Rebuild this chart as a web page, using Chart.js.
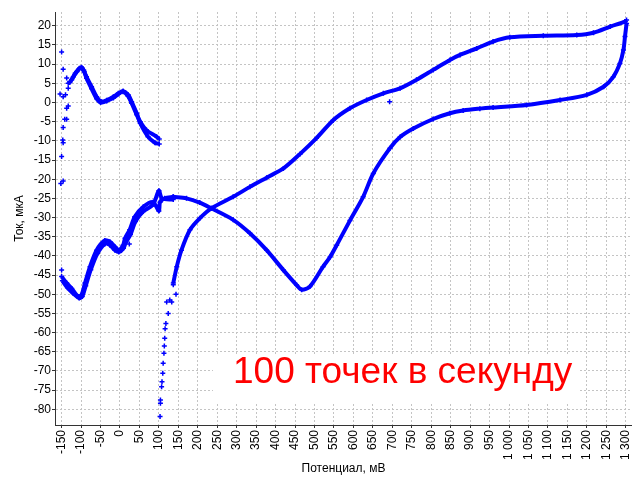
<!DOCTYPE html>
<html>
<head>
<meta charset="utf-8">
<script src="https://cdn.jsdelivr.net/npm/chart.js@4"></script>
<style>
  body { margin: 0; background: #fff; }
  #wrap { width: 632px; height: 478px; }
</style>
</head>
<body>
<div id="wrap"><canvas id="chart"></canvas></div>
<script>
// tick values
const xTicks = [-150,-100,-50,0,50,100,150,200,250,300,350,400,450,500,550,600,650,700,750,800,850,900,950,1000,1050,1100,1150,1200,1250,1300];
const yTicks = [-80,-75,-70,-65,-60,-55,-50,-45,-40,-35,-30,-25,-20,-15,-10,-5,0,5,10,15,20];

// scattered points at the start of the scan
const noiseX = [-150,-146,-137,-133,-129,-133,-154,-146,-140,-133,-137,-137,-142,-146,-147,-146,-150,-152,-146,-150];
const noiseY = [13.2,8.7,6.4,5.0,5.4,3.7,2.2,1.5,2.0,-0.9,-1.5,-4.4,-4.4,-6.5,-9.8,-10.5,-14.1,-21.1,-20.5,-43.7];

// upper-left loop, two passes
const topAX = [-129,-120,-111,-104,-98,-92,-86,-73,-60,-47,-34,-17,-4,8,21,30,43,52,72,90,101];
const topAY = [5.2,6.7,8.0,8.9,9.0,8.0,6.7,4.1,1.5,0.2,0.6,1.5,2.4,3.0,2.0,0.2,-2.8,-5.4,-8.9,-10.5,-10.8];
const topBX = [-124,-115,-106,-99,-93,-86,-73,-60,-50,-34,-17,-4,8,21,30,43,52,68,94,101];
const topBY = [5.9,7.6,8.7,9.2,8.4,6.3,3.6,1.0,0.0,0.4,1.2,2.2,2.8,1.6,-0.2,-3.2,-5.0,-7.2,-8.9,-9.5];

// lower-left part, two passes
const lowAX = [-150,-137,-124,-107,-99,-90,-77,-60,-39,-26,-13,-4,8,13,25,38,60,85,100,103,115,137];
const lowAY = [-45.4,-47.1,-48.5,-50.6,-50.2,-47.1,-42.8,-38.5,-36.0,-36.3,-37.6,-38.5,-37.2,-35.4,-33.2,-29.8,-27.2,-26.0,-28.3,-26.0,-25.0,-24.6];
const lowBX = [-148,-135,-120,-105,-97,-88,-75,-58,-39,-26,-13,-3,9,15,27,40,60,85,100,108,137];
const lowBY = [-46.5,-48.3,-49.8,-51.0,-50.6,-47.8,-43.6,-39.4,-36.9,-37.2,-38.5,-39.0,-38.0,-36.5,-34.4,-31.0,-28.4,-26.6,-23.0,-25.0,-25.3];

// main loop: forward branch (through the minimum) and reverse branch (top)
const fwdX = [137,171,205,235,291,334,377,420,454,467,488,522,540,557,591,625,651,694,720,754,805,848,882,925,959,1045,1131,1200,1243,1268,1285,1294,1298,1302];
const fwdY = [-24.6,-25.0,-26.1,-27.6,-30.6,-34.1,-38.5,-43.7,-47.6,-48.8,-48.0,-42.8,-40.3,-37.2,-30.8,-24.6,-18.5,-11.9,-9.0,-6.8,-4.3,-2.8,-2.1,-1.6,-1.3,-0.65,0.65,2.0,4.1,6.7,10.2,13.7,17.2,20.6];
const revX = [1302,1298,1260,1217,1174,1088,1002,959,917,874,848,805,762,720,677,634,591,548,505,463,420,377,334,291,235,205,180,158,146,137];
const revY = [21.5,21.1,19.8,18.2,17.6,17.4,17.0,15.9,14.1,12.4,11.1,8.5,5.9,3.7,2.4,0.65,-1.5,-4.6,-9.3,-13.4,-17.2,-19.6,-22.0,-24.6,-27.6,-30.2,-33.2,-38.5,-42.8,-47.1];

// sparse tail at the end of the reverse scan
const tailX = [137,144,133,128,124,120,118,116,115,114,113,111,110,108,107,104,104,103];
const tailY = [-47.5,-50.0,-52.0,-51.5,-55.0,-52.0,-57.6,-59.0,-61.5,-63.5,-65.4,-68.0,-70.6,-72.8,-74.1,-77.6,-78.4,-81.9];

// stray points
const strayX = [24,693];
const strayY = [-36.9,0.2];

const noteText = '100 точек в секунду';
const blue = '#0000ff';
const fontFamily = '"Liberation Sans", Arial, sans-serif';

function pts(xs, ys) {
    return xs.map((x, i) => ({x: x, y: ys[i]}));
}

function curve(xs, ys) {
    return {
        data: pts(xs, ys),
        showLine: true,
        borderColor: blue,
        backgroundColor: blue,
        borderWidth: 4,
        pointStyle: 'cross',
        pointRadius: 2.5,
        pointBorderWidth: 1.5,
        tension: 0.3
    };
}

function dots(xs, ys) {
    return {
        data: pts(xs, ys),
        showLine: false,
        borderColor: blue,
        backgroundColor: blue,
        pointStyle: 'cross',
        pointRadius: 2.5,
        pointBorderWidth: 1.5
    };
}

const notePlugin = {
    id: 'note',
    afterDatasetsDraw(chart) {
        const ctx = chart.ctx;
        ctx.save();
        ctx.fillStyle = '#ffffff';
        ctx.fillRect(213, 354, 367, 48);
        ctx.fillStyle = '#ff0000';
        ctx.font = '37px ' + fontFamily;
        ctx.textBaseline = 'alphabetic';
        ctx.fillText(noteText, 233, 383);
        ctx.restore();
    }
};

const ctx = document.getElementById('chart').getContext('2d');
new Chart(ctx, {
    type: 'scatter',
    data: {
        datasets: [
            dots(noiseX, noiseY),
            curve(topAX, topAY),
            curve(topBX, topBY),
            curve(lowAX, lowAY),
            curve(lowBX, lowBY),
            curve(fwdX, fwdY),
            curve(revX, revY),
            dots(tailX, tailY),
            dots(strayX, strayY)
        ]
    },
    options: {
        responsive: true,
        maintainAspectRatio: false,
        animation: false,
        layout: { autoPadding: false, padding: { top: 12, right: 0, left: 0, bottom: 0 } },
        plugins: {
            legend: { display: false },
            tooltip: { enabled: false }
        },
        scales: {
            x: {
                type: 'linear',
                min: -167,
                max: 1316,
                afterBuildTicks: (s) => { s.ticks = xTicks.map(v => ({value: v})); },
                afterFit: (s) => { s.height = 53; s.paddingLeft = 0; s.paddingRight = 0; },
                ticks: {
                    autoSkip: false,
                    minRotation: 90,
                    maxRotation: 90,
                    padding: 2,
                    color: '#000',
                    font: { family: fontFamily, size: 12 },
                    callback: (v) => String(v).replace(/\B(?=(\d{3})+(?!\d))/g, ' ')
                },
                grid: {
                    color: '#c4c4c4',
                    lineWidth: 1,
                    tickLength: 3,
                    tickColor: '#333',
                    tickBorderDash: []
                },
                border: { display: true, color: '#333', width: 1, dash: [2, 2] },
                title: {
                    display: true,
                    text: 'Потенциал, мВ',
                    color: '#000',
                    font: { family: fontFamily, size: 12 },
                    padding: { top: 0, bottom: 2 }
                }
            },
            y: {
                type: 'linear',
                min: -84.1,
                max: 23.6,
                afterBuildTicks: (s) => { s.ticks = yTicks.map(v => ({value: v})); },
                afterFit: (s) => { s.width = 55; s.paddingTop = 0; s.paddingBottom = 0; },
                ticks: {
                    padding: 1,
                    color: '#000',
                    font: { family: fontFamily, size: 12 }
                },
                grid: {
                    color: '#c4c4c4',
                    lineWidth: 1,
                    tickLength: 3,
                    tickColor: '#333',
                    tickBorderDash: []
                },
                border: { display: true, color: '#333', width: 1, dash: [2, 2] },
                title: {
                    display: true,
                    text: 'Ток, мкА',
                    color: '#000',
                    font: { family: fontFamily, size: 12 },
                    padding: { top: 12, bottom: 0 }
                }
            }
        }
    },
    plugins: [notePlugin]
});
</script>
</body>
</html>
